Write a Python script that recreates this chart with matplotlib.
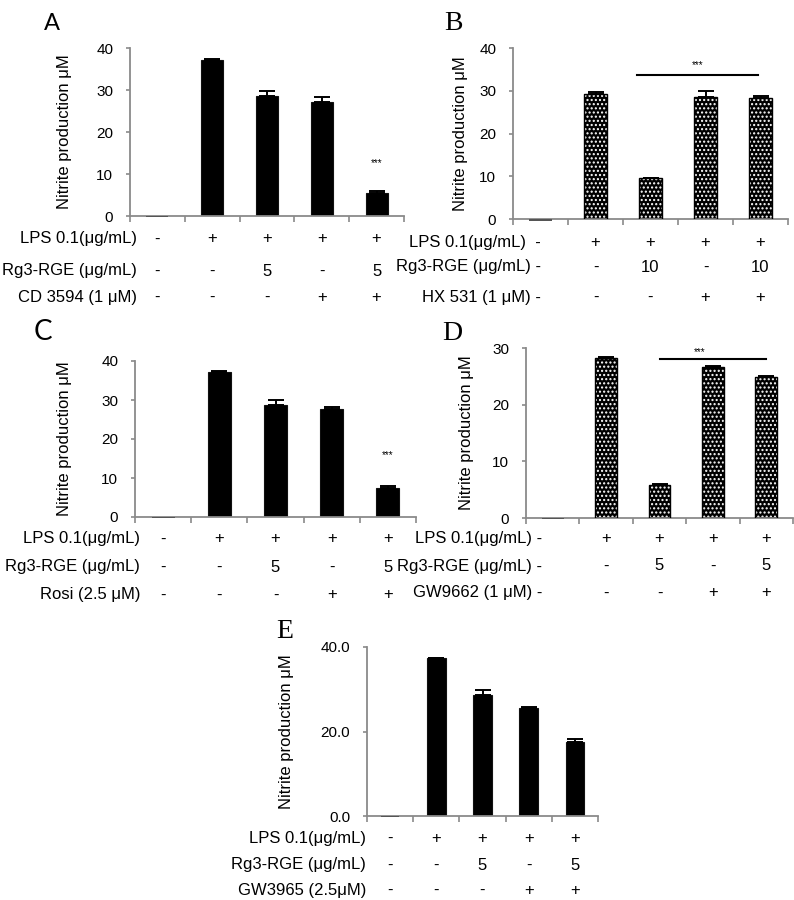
import matplotlib
matplotlib.use("Agg")
import matplotlib.pyplot as plt
import matplotlib.transforms as mtransforms
import numpy as np

plt.rcParams['font.family'] = ['Liberation Sans', 'DejaVu Sans']
plt.rcParams['hatch.linewidth'] = 1.0

W, H = 794, 900

# ---------------- data ----------------
values_A = [-0.25, 37.2, 28.5, 27.2, 5.5]
errors_A = [0.0, 0.15, 1.3, 1.2, 0.5]
values_B = [-0.4, 29.2, 9.5, 28.6, 28.4]
errors_B = [0.0, 0.5, 0.2, 1.3, 0.4]
values_C = [-0.25, 37.3, 28.6, 27.6, 7.5]
errors_C = [0.0, 0.15, 1.3, 0.5, 0.5]
values_D = [-0.2, 28.3, 5.9, 26.7, 24.9]
errors_D = [0.0, 0.1, 0.05, 0.1, 0.1]
values_E = [-0.25, 37.3, 28.6, 25.6, 17.4]
errors_E = [0.0, 0.15, 1.2, 0.2, 0.8]

lps_row = ['-', '+', '+', '+', '+']
rg3_row_5 = ['-', '-', '5', '-', '5']
rg3_row_10 = ['-', '-', '10', '-', '10']
inhib_row = ['-', '-', '-', '+', '+']

row_labels_A = ['LPS 0.1(μg/mL)', 'Rg3-RGE (μg/mL)', 'CD 3594 (1 μM)']
row_labels_B = ['LPS 0.1(μg/mL)', 'Rg3-RGE (μg/mL)', 'HX 531 (1 μM)']
row_labels_C = ['LPS 0.1(μg/mL)', 'Rg3-RGE (μg/mL)', 'Rosi (2.5 μM)']
row_labels_D = ['LPS 0.1(μg/mL)', 'Rg3-RGE (μg/mL)', 'GW9662 (1 μM)']
row_labels_E = ['LPS 0.1(μg/mL)', 'Rg3-RGE (μg/mL)', 'GW3965 (2.5μM)']

ylabel = 'Nitrite production μM'

fig = plt.figure(figsize=(W / 100, H / 100), dpi=100)


def fx(x):
    return x / W


def fy(y):
    return 1 - y / H


GRAY = '#8a8a8a'


def panel(letter, letter_xy, letter_font, letter_size,
          box, ymax, yticks, yfmt, vals, errs, rows, labels, label_right,
          rows_y, dash_in_label, hatched, width, ylabel_x, label_seps=None):
    left, right, top, bottom = box
    ax = fig.add_axes([fx(left), fy(bottom), (right - left) / W, (bottom - top) / H])
    n = len(vals)
    x = np.arange(n)
    for i in range(n):
        v = vals[i]
        if v < 0:
            ax.bar(x[i], v, width=width, color='#555555', clip_on=False, zorder=3,
                   linewidth=0)
            continue
        if hatched:
            ax.bar(x[i], v, width=width, facecolor='black', edgecolor='white',
                   hatch='....', linewidth=0, zorder=2)
            ax.bar(x[i], v, width=width, fill=False, edgecolor='black',
                   linewidth=1.0, zorder=3)
        else:
            ax.bar(x[i], v, width=width, facecolor='black', edgecolor='#111111',
                   linewidth=0.8, zorder=2)
    idx = [i for i in range(n) if vals[i] > 0]
    ax.errorbar(x[idx], np.array(vals)[idx],
                yerr=[np.zeros(len(idx)), np.array(errs)[idx]],
                fmt='none', ecolor='black', elinewidth=1.4, capsize=6, capthick=1.4,
                zorder=4)
    ax.set_xlim(-0.5, n - 0.5)
    ax.set_ylim(0, ymax)
    ax.set_yticks(yticks)
    ax.set_yticklabels([yfmt.format(t) for t in yticks], fontsize=11)
    ax.set_xticks(np.arange(n + 1) - 0.5)
    ax.set_xticklabels([])
    ax.tick_params(axis='x', length=4.5, width=1.2, color=GRAY, direction='out')
    ax.tick_params(axis='y', length=3, width=1.2, color=GRAY, direction='out', pad=9)
    for s in ['top', 'right']:
        ax.spines[s].set_visible(False)
    for s in ['left', 'bottom']:
        ax.spines[s].set_color(GRAY)
        ax.spines[s].set_linewidth(1.3)
    # y label
    fig.text(fx(ylabel_x), fy((top + bottom) / 2), ylabel, rotation=90,
             ha='center', va='center', fontsize=12)
    # letter
    fig.text(fx(letter_xy[0]), fy(letter_xy[1]), letter, ha='center', va='center',
             fontsize=letter_size, family=letter_font)
    # condition rows
    trans = mtransforms.blended_transform_factory(ax.transData, fig.transFigure)
    for r, (lab, row) in enumerate(zip(labels, rows)):
        yy = fy(rows_y[r])
        start = 0
        text = lab
        if dash_in_label:
            text = lab + label_seps[r] + row[0]
            start = 1
        fig.text(fx(label_right), yy, text, ha='right', va='center', fontsize=12)
        for c in range(start, n):
            ax.text(x[c], yy, row[c], transform=trans, ha='center', va='center',
                    fontsize=12)
    return ax


axA = panel('A', (52, 24), 'Lato', 17, (130, 404, 48, 216), 40, [0, 10, 20, 30, 40], '{:.0f}',
            values_A, errors_A, [lps_row, rg3_row_5, inhib_row], row_labels_A, 137,
            [239, 271, 297], False, False, 0.4, 64)
axA.text(4, 12.6, '***', ha='center', va='center', fontsize=7)

axB = panel('B', (453, 24), 'Liberation Serif', 20, (513, 788, 48, 219), 40, [0, 10, 20, 30, 40], '{:.0f}',
            values_B, errors_B, [lps_row, rg3_row_10, inhib_row], row_labels_B, 541,
            [242, 267, 297], True, True, 0.43, 461, label_seps=['  ', ' ', ' '])
axB.plot([1.75, 3.95], [33.7, 33.7], color='black', lw=1.5)
axB.text(2.85, 36.0, '***', ha='center', va='center', fontsize=7)

axC = panel('C', (43, 332), 'Lato', 20, (135, 416, 361, 517), 40, [0, 10, 20, 30, 40], '{:.0f}',
            values_C, errors_C, [lps_row, rg3_row_5, inhib_row], row_labels_C, 140,
            [539, 567, 595], False, False, 0.41, 65)
axC.text(4, 15.9, '***', ha='center', va='center', fontsize=7)

axD = panel('D', (452, 334), 'Liberation Serif', 20, (526, 793, 348, 518), 30, [0, 10, 20, 30], '{:.0f}',
            values_D, errors_D, [lps_row, rg3_row_5, inhib_row], row_labels_D, 542,
            [539, 566, 593], True, True, 0.41, 467, label_seps=[' ', ' ', ' '])
axD.plot([2.0, 4.0], [28.1, 28.1], color='black', lw=1.5)
axD.text(2.75, 29.2, '***', ha='center', va='center', fontsize=7)

axE = panel('E', (285, 631), 'Liberation Serif', 20, (367, 598, 647, 816), 40, [0, 20, 40], '{:.1f}',
            values_E, errors_E, [lps_row, rg3_row_5, inhib_row], row_labels_E, 366,
            [838, 865, 890], False, False, 0.4, 287)

fig.savefig('out.png', dpi=100)
